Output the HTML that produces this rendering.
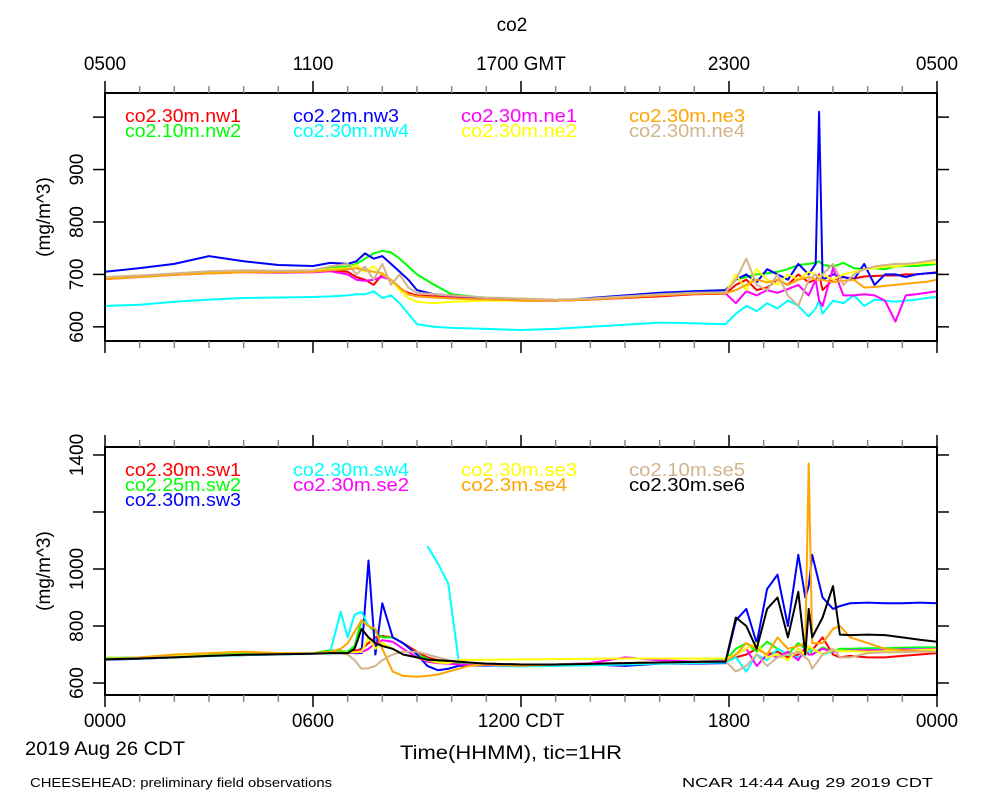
<!DOCTYPE html>
<html><head><meta charset="utf-8"><style>
html,body{margin:0;padding:0;background:#fff;}
svg{display:block;font-family:"Liberation Sans",sans-serif;}
</style></head><body>
<svg id="chart" width="1000" height="800" viewBox="0 0 1000 800">
<g id="static"></g>
</svg>
<script>
// ---------- data (top panel) ----------
const topTimes=[0,1,2,3,4,5,6,6.5,7,7.25,7.5,7.75,8,8.25,8.5,8.75,9,9.5,10,11,12,13,14,15,16,17,17.9,18.2,18.5,18.8,19.1,19.4,19.7,20,20.3,20.5,20.6,20.7,21,21.3,21.6,21.9,22.2,22.5,22.8,23.1,23.4,23.7,24];
const nw1=[693,697,700,703,706,705,706,708,705,695,690,680,700,690,672,665,660,658,656,653,650,650,652,655,658,662,663,680,690,670,675,690,680,700,685,690,700,670,690,695,692,696,697,698,698,700,700,702,704];
const nw2=[692,696,700,703,705,706,707,712,715,720,730,740,745,742,730,715,700,680,662,655,652,650,652,657,664,668,670,690,695,700,702,705,710,718,720,722,725,718,715,722,712,710,712,710,715,716,716,718,720];
const nw3=[705,712,720,735,725,718,716,722,720,725,740,730,735,720,705,690,670,662,660,655,652,650,655,660,665,668,670,690,700,685,710,700,690,720,700,720,1010,690,700,695,690,720,680,700,700,695,700,702,703];
const nw4=[640,642,648,652,655,656,657,658,660,662,662,668,655,660,645,625,605,600,598,596,594,596,600,604,608,607,605,625,640,630,645,635,650,640,620,635,650,625,650,645,660,640,652,650,648,650,652,655,657];
const ne1=[691,695,699,702,704,703,704,706,700,690,688,690,695,690,675,662,658,656,655,652,650,650,652,656,660,663,664,645,668,660,670,665,672,680,660,690,650,640,712,660,660,662,660,650,610,660,662,665,668];
const ne2=[692,696,700,703,705,705,706,710,712,718,705,715,700,690,670,655,648,645,648,650,650,651,653,657,661,664,665,700,670,710,690,680,700,690,705,700,695,700,690,700,705,710,712,715,715,718,720,722,722];
const ne3=[691,695,699,702,704,704,705,708,710,712,708,705,702,690,675,662,658,656,654,652,650,650,652,656,660,663,664,670,680,690,685,690,680,690,695,690,690,690,685,688,690,675,676,678,680,682,684,686,690];
const ne4=[695,698,702,706,708,707,708,715,720,700,715,690,720,680,700,675,665,662,660,656,654,652,654,658,662,665,666,690,730,680,670,700,660,640,690,700,690,700,720,680,700,710,715,718,720,720,722,725,728];
const topNames=["co2.30m.nw1","co2.10m.nw2","co2.2m.nw3","co2.30m.nw4","co2.30m.ne1","co2.30m.ne2","co2.30m.ne3","co2.30m.ne4"];
const topColors=["#ff0000","#00ff00","#0000ff","#00ffff","#ff00ff","#ffff00","#ffa500","#d2b48c"];
const topTicks=[600,700,800,900,1000];
const topTickLabels=["600","700","800","900",""];

// ---------- data (bottom panel) ----------
const botTimes=[0,1,2,3,4,5,6,6.5,6.8,7.0,7.2,7.4,7.6,7.8,8.0,8.3,8.6,9.0,9.3,9.6,9.9,10.2,10.5,11,12,13,14,15,16,17,17.9,18.2,18.5,18.8,19.1,19.4,19.7,20.0,20.2,20.3,20.4,20.7,21.0,21.2,21.5,22,22.5,23,23.5,24];
const sw1=[685,688,692,696,700,702,705,708,708,710,712,720,740,760,765,760,740,710,690,680,675,672,670,668,665,665,668,670,672,675,678,690,700,720,700,710,690,700,720,720,715,760,700,690,695,690,690,695,700,705];
const sw2=[688,690,695,700,703,703,705,715,712,710,730,820,800,780,760,760,740,700,685,675,670,668,666,665,663,664,668,670,672,675,680,720,740,710,745,720,700,740,720,730,700,725,710,720,720,722,722,724,725,725];
const sw3=[682,685,690,695,698,700,704,705,705,706,705,705,1030,700,880,760,740,700,660,645,650,660,662,660,660,662,665,660,668,668,670,820,860,740,930,980,800,1050,900,940,1050,900,860,870,880,882,880,880,882,880];
const sw4=[683,686,690,694,698,700,703,710,850,760,840,850,800,null,null,null,null,null,1080,1020,950,680,665,660,658,660,662,665,668,670,672,690,640,700,680,720,700,690,700,710,720,700,710,712,715,716,718,718,720,720];
const se2=[685,688,692,696,700,702,705,706,706,706,707,708,720,740,750,745,720,690,675,670,668,665,664,662,662,665,670,690,680,675,678,700,720,660,700,690,710,680,720,700,700,720,710,712,714,715,716,718,718,720];
const se3=[686,689,693,697,700,702,705,706,706,707,708,710,760,720,740,720,700,690,680,672,670,680,682,682,683,684,685,686,686,686,686,700,720,740,690,700,680,720,700,730,720,700,715,712,712,710,712,714,716,718];
const se4=[684,690,700,705,710,705,705,710,720,740,780,820,800,790,720,640,625,622,625,630,640,650,660,665,660,665,668,670,672,674,676,700,740,720,700,760,720,730,740,1370,740,740,790,800,760,740,720,715,712,710];
const se5=[684,687,691,695,699,701,704,705,705,700,680,650,652,660,680,700,710,710,700,690,680,675,670,668,665,665,668,670,672,674,676,640,660,700,660,690,700,710,690,680,650,700,720,690,690,705,708,708,710,710];
const se6=[683,686,690,695,699,701,703,705,705,705,720,790,760,740,730,720,700,690,682,680,678,675,672,668,665,665,667,670,672,674,675,830,800,720,860,900,760,920,700,860,760,830,940,770,768,770,768,760,752,745];
const botNames=["co2.30m.sw1","co2.25m.sw2","co2.30m.sw3","co2.30m.sw4","co2.30m.se2","co2.30m.se3","co2.3m.se4","co2.10m.se5","co2.30m.se6"];
const botColors=["#ff0000","#00ff00","#0000ff","#00ffff","#ff00ff","#ffff00","#ffa500","#d2b48c","#000000"];
const botTicks=[600,800,1000,1200,1400];
const botTickLabels=["600","800","1000","","1400"];
const topXLabels=["0500","1100","1700 GMT","2300","0500"];
const botXLabels=["0000","0600","1200 CDT","1800","0000"];

// ---------- geometry ----------
const NS="http://www.w3.org/2000/svg";
const svg=document.getElementById("chart");
const X0=105,X1=937;
function xs(h){return X0+(X1-X0)*h/24;}
function mkScale(top,bot,vTop,vBot){return v=>top+(vTop-v)*(bot-top)/(vTop-vBot);}
const ysTop=mkScale(93,341,1046,573);
const ysBot=mkScale(447,695,1428,558);
function el(tag,attrs,parent){const e=document.createElementNS(NS,tag);for(const k in attrs)e.setAttribute(k,attrs[k]);(parent||svg).appendChild(e);return e;}
function txt(s,attrs,parent){const e=el("text",attrs,parent);e.textContent=s;return e;}

function drawSeries(g,times,vals,ys,color,name){
  let d="",pen=false;
  for(let i=0;i<times.length;i++){
    if(vals[i]===null){pen=false;continue;}
    d+=(pen?"L":"M")+xs(times[i]).toFixed(1)+","+ys(vals[i]).toFixed(1);
    pen=true;
  }
  const p=el("path",{d:d,fill:"none",stroke:color,"stroke-width":"2","stroke-linejoin":"round"},g);
  
  
}

function drawPanel(id,top,bot,ys,ticks,tickLabels,series,names,colors,xLabels,labelsOnTop,legendSlots){
  const g=el("g",{});
  
  
  const lines=el("g",{"clip-path":"url(#clip-"+id+")"},g);
  
  
  const cp=el("clipPath",{id:"clip-"+id},g);
  el("rect",{x:X0,y:top,width:X1-X0,height:bot-top},cp);
  series.forEach((vals,i)=>drawSeries(lines,series.times,vals,ys,colors[i],names[i]));
  const fr=el("rect",{x:X0,y:top,width:X1-X0,height:bot-top,fill:"none",stroke:"#000","stroke-width":"2"},g);
  
  
  for(let h=0;h<=24;h++){
    const major=h%6===0, L=major?12:7, c=major?"#000":"#888";
    const x=xs(h);
    el("line",{x1:x,y1:top,x2:x,y2:top-L,stroke:c,"stroke-width":"1.5"},g);
    el("line",{x1:x,y1:bot,x2:x,y2:bot+L,stroke:c,"stroke-width":"1.5"},g);
  }
  ticks.forEach((v,i)=>{
    const y=ys(v);
    el("line",{x1:X0,y1:y,x2:X0-12,y2:y,stroke:"#000","stroke-width":"1.5"},g);
    el("line",{x1:X1,y1:y,x2:X1+12,y2:y,stroke:"#000","stroke-width":"1.5"},g);
    if(tickLabels[i]){
      const t=txt(tickLabels[i],{x:83,y:y,"font-size":"19","text-anchor":"middle",transform:"rotate(-90 83 "+y+")"},g);
      
      
    }
  });
  const yt=txt("(mg/m^3)",{x:50,y:(top+bot)/2,"font-size":"19","text-anchor":"middle",transform:"rotate(-90 50 "+((top+bot)/2)+")"},g);
  
  
  xLabels.forEach((s,i)=>{
    const x=xs(i*6);
    const t=txt(s,{x:x,y:labelsOnTop?70:727,"font-size":"19","text-anchor":"middle"},g);
    
    
  });
  const cols=[125,293,461,629];
  names.forEach((n,i)=>{
    const c=legendSlots[i][0], r=legendSlots[i][1];
    const t=txt(n,{x:cols[c],y:top+29+r*15,"font-size":"18",fill:colors[i],textLength:(n.length===11?"116":"106"),lengthAdjust:"spacingAndGlyphs"},g);
    
    
  });
}

const topSeries=[nw1,nw2,nw3,nw4,ne1,ne2,ne3,ne4]; topSeries.times=topTimes;
const botSeries=[sw1,sw2,sw3,sw4,se2,se3,se4,se5,se6]; botSeries.times=botTimes;
drawPanel("top",93,341,ysTop,topTicks,topTickLabels,topSeries,topNames,topColors,topXLabels,true,
  [[0,0],[0,1],[1,0],[1,1],[2,0],[2,1],[3,0],[3,1]]);
drawPanel("bottom",447,695,ysBot,botTicks,botTickLabels,botSeries,botNames,botColors,botXLabels,false,
  [[0,0],[0,1],[0,2],[1,0],[1,1],[2,0],[2,1],[3,0],[3,1]]);
</script>
<div style="position:absolute;left:0;top:0;width:1000px;height:800px;pointer-events:none;">
<svg width="1000" height="800" style="position:absolute;left:0;top:0;font-family:'Liberation Sans',sans-serif;">
<text x="512" y="31" font-size="19" text-anchor="middle">co2</text>
<text x="25" y="755" font-size="19" textLength="160" lengthAdjust="spacingAndGlyphs">2019 Aug 26 CDT</text>
<text x="400" y="759" font-size="19" textLength="222" lengthAdjust="spacingAndGlyphs">Time(HHMM), tic=1HR</text>
<text x="30" y="787" font-size="13" textLength="302" lengthAdjust="spacingAndGlyphs">CHEESEHEAD: preliminary field observations</text>
<text x="933" y="787" font-size="13" text-anchor="end" textLength="251" lengthAdjust="spacingAndGlyphs">NCAR 14:44 Aug 29 2019 CDT</text>
</svg>
</div>
</body></html>
